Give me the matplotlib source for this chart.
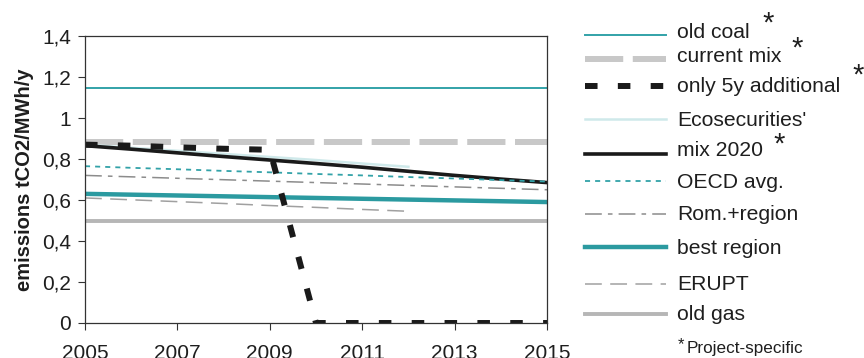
import matplotlib
matplotlib.use("Agg")
import matplotlib.pyplot as plt
from matplotlib.lines import Line2D

plt.rcParams['font.family'] = ['Liberation Sans', 'DejaVu Sans']

years = [2005, 2006, 2007, 2008, 2009, 2010, 2011, 2012, 2013, 2014, 2015]
old_coal = [1.145] * 11
current_mix = [0.885] * 11
only_5y = [0.870, 0.865, 0.857, 0.850, 0.845, 0.0, 0.0, 0.0, 0.0, 0.0, 0.0]
eco_years = [2005, 2006, 2007, 2008, 2009, 2010, 2011, 2012]
ecosecurities = [0.870, 0.855, 0.840, 0.825, 0.810, 0.795, 0.778, 0.762]
mix_2020 = [0.865, 0.848, 0.830, 0.812, 0.795, 0.778, 0.760, 0.740, 0.720, 0.702, 0.685]
oecd = [0.765, 0.757, 0.750, 0.742, 0.735, 0.727, 0.720, 0.712, 0.705, 0.697, 0.690]
rom_region = [0.720, 0.713, 0.706, 0.699, 0.692, 0.685, 0.678, 0.671, 0.664, 0.657, 0.650]
best_region = [0.630, 0.626, 0.622, 0.618, 0.614, 0.610, 0.606, 0.602, 0.598, 0.594, 0.590]
erupt_years = [2005, 2006, 2007, 2008, 2009, 2010, 2011, 2012]
erupt = [0.610, 0.601, 0.592, 0.583, 0.573, 0.564, 0.554, 0.545]
old_gas = [0.500] * 11

yticks = [0, 0.2, 0.4, 0.6, 0.8, 1.0, 1.2, 1.4]
ytick_labels = ["0", "0,2", "0,4", "0,6", "0,8", "1", "1,2", "1,4"]
xticks = [2005, 2007, 2009, 2011, 2013, 2015]

TEAL = "#32a2a8"
TEAL_D = "#2b9aa0"
LGRAY = "#c8c8c8"
GRAY = "#8c8c8c"
GAS = "#b6b6b6"
ECO = "#cfe9ea"
BLACK = "#1a1a1a"
TXT = "#1e1e1e"

W, H = 864, 358
fig = plt.figure(figsize=(W / 100, H / 100), dpi=100)
ax = fig.add_axes([85 / W, 1 - 323 / H, (547 - 85) / W, (323 - 36) / H])

styles = {
    'old coal': dict(color=TEAL, lw=1.4, ls='-'),
    'current mix': dict(color=LGRAY, lw=4.3, ls=(0, (6.4, 1.6))),
    'only 5y': dict(color=BLACK, lw=4.3, ls=(0, (2.1, 3.4))),
    'eco': dict(color=ECO, lw=1.8, ls='-'),
    'mix2020': dict(color=BLACK, lw=2.6, ls='-'),
    'oecd': dict(color=TEAL, lw=1.3, ls=(0, (2.8, 2.8))),
    'rom': dict(color=GRAY, lw=1.1, ls=(0, (11, 4, 3, 4))),
    'best': dict(color=TEAL_D, lw=3.2, ls='-'),
    'erupt': dict(color="#a0a0a0", lw=1.1, ls=(0, (11, 5.5))),
    'gas': dict(color=GAS, lw=2.8, ls='-'),
}

ax.plot(years, old_gas, **styles['gas'])
ax.plot(erupt_years, erupt, **styles['erupt'])
ax.plot(years, best_region, **styles['best'])
ax.plot(years, rom_region, **styles['rom'])
ax.plot(years, current_mix, **styles['current mix'])
ax.plot(eco_years, ecosecurities, **styles['eco'])
ax.plot(years, mix_2020, **styles['mix2020'])
ax.plot(years, oecd, **styles['oecd'])
ax.plot(years, old_coal, **styles['old coal'])
ax.plot(years, only_5y, **styles['only 5y'])

ax.set_xlim(2005, 2015)
ax.set_ylim(0, 1.4)
ax.set_yticks(yticks)
ax.set_yticklabels(ytick_labels)
ax.set_xticks(xticks)
ax.set_xticklabels([str(x) for x in xticks])
ax.tick_params(axis='both', labelsize=15, length=5, width=0.8, color="#333333",
               labelcolor=TXT, direction='out')
ax.tick_params(axis='x', pad=10)
ax.tick_params(axis='y', pad=5)
for s in ax.spines.values():
    s.set_color("#333333")
    s.set_linewidth(0.9)
ax.set_ylabel("emissions tCO2/MWh/y", fontsize=14.5, fontweight='bold', color=TXT, labelpad=6)

# legend drawn manually
def fx(x):
    return x / W

def fy(y):
    return 1 - y / H

legend = [
    ('old coal', 35, "old coal", 33),
    ('current mix', 59, "current mix", 56),
    ('only 5y', 86, "only 5y additional", 87),
    ('mix2020', 154, "mix 2020", 151),
    ('oecd', 181, "OECD avg.", 182),
    ('rom', 214, "Rom.+region", 215),
    ('best', 247, "best region", 248),
    ('erupt', 284, "ERUPT", 284),
    ('gas', 314, "old gas", 314),
]
for key, ly, label, ty in legend:
    st = dict(styles[key])
    fig.add_artist(Line2D([fx(585), fx(666)], [fy(ly), fy(ly)], transform=fig.transFigure,
                          color=st['color'], lw=st['lw'], ls=st['ls']))
    fig.text(fx(677), fy(ty), label, fontsize=15.2, color=TXT, va='center', ha='left')

fig.add_artist(Line2D([fx(585), fx(666)], [fy(119), fy(119)], transform=fig.transFigure,
                      color=ECO, lw=1.8))
fig.text(fx(677), fy(120), "Ecosecurities'", fontsize=15.2, color=TXT, va='center', ha='left')

for x, y in [(768, 24), (797, 49), (858, 76), (779, 145)]:
    fig.text(fx(x), fy(y), "*", fontsize=21, color=TXT, ha='center', va='center')

fig.text(fx(678), fy(345), "*", fontsize=12, color=TXT, va='center', ha='left')
fig.text(fx(687), fy(348), "Project-specific", fontsize=12.3, color=TXT, va='center', ha='left')

fig.savefig("out.png", dpi=100)
